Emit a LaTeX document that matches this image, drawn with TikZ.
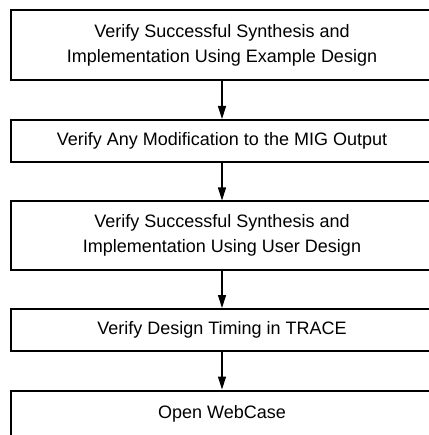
\documentclass[tikz,border=0pt]{standalone}
\usepackage{fontspec}
\setmainfont{Liberation Sans}
\usetikzlibrary{arrows.meta, positioning}
\tikzset{
	stepbox/.style={rectangle, draw=black, line width=2pt, align=center, minimum width=423pt, minimum height=42pt, inner sep=0pt, font=\fontsize{18}{25.5}\selectfont},
	tallbox/.style={stepbox, minimum height=70pt},
	arrow/.style={-{Triangle[length=13pt, width=8pt]}, line width=1.2pt, draw=black},
}

\begin{document}
\begin{tikzpicture}[x=1pt, y=1pt, node distance=37.5pt]
		\useasboundingbox (0,0) rectangle (428,-435);
		\node[tallbox] (synex) at (222,-45.5) {Verify Successful Synthesis and\\Implementation Using Example Design};
		\node[stepbox, below=of synex] (mig) {Verify Any Modification to the MIG Output};
		\node[tallbox, below=of mig, minimum height=68pt] (synuser) {Verify Successful Synthesis and\\Implementation Using User Design};
		\node[stepbox, below=of synuser] (trace) {Verify Design Timing in TRACE};
		\node[stepbox, below=of trace, minimum height=46pt] (webcase) {Open WebCase};
		\draw[arrow] (synex) -- (mig);
		\draw[arrow] (mig) -- (synuser);
		\draw[arrow] (synuser) -- (trace);
		\draw[arrow] (trace) -- (webcase);
	\end{tikzpicture}
\end{document}
